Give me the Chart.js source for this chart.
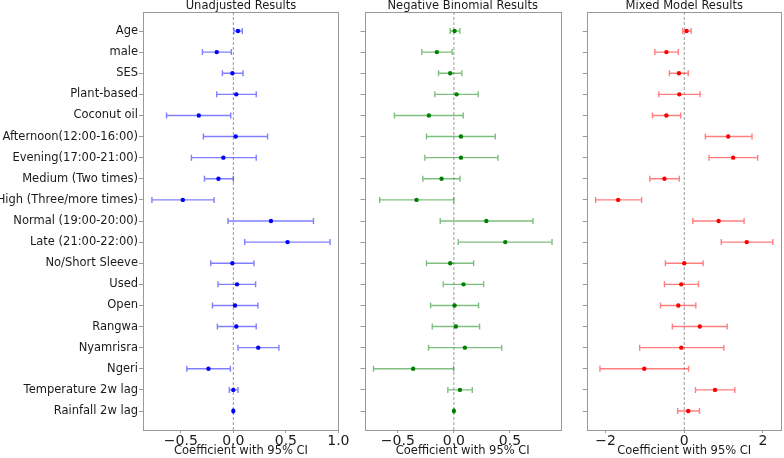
<!DOCTYPE html>
<html><head><meta charset="utf-8">
<script src="https://cdn.jsdelivr.net/npm/chart.js@4.4.0/dist/chart.umd.min.js"></script>
<style>
html,body{margin:0;padding:0;background:#fff;}
#wrap{position:relative;width:784px;height:458px;overflow:hidden;background:#fff;}
canvas{position:absolute;top:0;left:0;}
</style></head><body>
<div id="wrap">
<canvas id="c1" width="784" height="458"></canvas>
<canvas id="c2" width="784" height="458"></canvas>
<canvas id="c3" width="784" height="458"></canvas>
</div>
<script>
const categories = ['Age','male','SES','Plant-based','Coconut oil','Afternoon(12:00-16:00)','Evening(17:00-21:00)','Medium (Two times)','High (Three/more times)','Normal (19:00-20:00)','Late (21:00-22:00)','No/Short Sleeve','Used','Open','Rangwa','Nyamrisra','Ngeri','Temperature 2w lag','Rainfall 2w lag'];

const unadjPoint = [0.044,-0.158,-0.009,0.028,-0.329,0.022,-0.095,-0.142,-0.481,0.358,0.516,-0.009,0.035,0.016,0.028,0.237,-0.237,0.0,0.0];
const unadjLow   = [0.006,-0.294,-0.104,-0.158,-0.636,-0.285,-0.399,-0.275,-0.775,-0.051,0.108,-0.215,-0.146,-0.199,-0.152,0.044,-0.443,-0.038,-0.003];
const unadjHigh  = [0.085,-0.019,0.092,0.218,-0.025,0.326,0.218,0.0,-0.184,0.763,0.921,0.196,0.212,0.234,0.218,0.434,-0.028,0.044,0.003];

const nbPoint = [0.006,-0.152,-0.033,0.024,-0.223,0.063,0.063,-0.110,-0.333,0.289,0.458,-0.033,0.086,0.006,0.018,0.098,-0.363,0.054,0.0];
const nbLow   = [-0.033,-0.286,-0.137,-0.170,-0.530,-0.244,-0.259,-0.277,-0.661,-0.122,0.039,-0.244,-0.095,-0.208,-0.193,-0.226,-0.717,-0.054,-0.003];
const nbHigh  = [0.054,-0.015,0.071,0.217,0.083,0.369,0.393,0.054,0.0,0.705,0.875,0.176,0.265,0.220,0.229,0.426,-0.003,0.164,0.003];

const mmPoint = [0.059,-0.454,-0.134,-0.126,-0.454,1.118,1.244,-0.504,-1.681,0.874,1.588,0.0,-0.076,-0.151,0.395,-0.076,-1.017,0.782,0.101];
const mmLow   = [-0.042,-0.748,-0.378,-0.647,-0.807,0.538,0.630,-0.874,-2.252,0.218,0.941,-0.479,-0.504,-0.605,-0.303,-1.134,-2.143,0.286,-0.168];
const mmHigh  = [0.176,-0.151,0.101,0.403,-0.092,1.723,1.866,-0.126,-1.084,1.521,2.252,0.479,0.361,0.294,1.092,1.008,0.109,1.286,0.387];

const xTicksUnadj = [-0.5, 0, 0.5, 1.0];
const xTicksNB = [-0.5, 0, 0.5];
const xTicksMixed = [-2, 0, 2];

const titles = ['Unadjusted Results','Negative Binomial Results','Mixed Model Results'];
const xAxisTitle = 'Coefficient with 95% CI';

const FONT = "'DejaVu Sans', sans-serif";
const TEXT = '#1a1a1a';
const FRAME = '#9a9a9a';

function forestPlugin(low, high, color, title) {
  return {
    id: 'forest',
    beforeDatasetsDraw(chart) {
      const ctx = chart.ctx, xs = chart.scales.x, ys = chart.scales.y, a = chart.chartArea;
      ctx.save();
      ctx.strokeStyle = FRAME; ctx.lineWidth = 1;
      ctx.strokeRect(Math.round(a.left) + 0.5, Math.round(a.top) + 0.5, Math.round(a.right - a.left) - 1, Math.round(a.bottom - a.top));
      const x0 = xs.getPixelForValue(0);
      ctx.strokeStyle = '#808080'; ctx.lineWidth = 0.8; ctx.setLineDash([3, 2]);
      ctx.beginPath(); ctx.moveTo(x0, a.top); ctx.lineTo(x0, a.bottom); ctx.stroke();
      ctx.setLineDash([]);
      ctx.strokeStyle = color; ctx.lineWidth = 1.4;
      ctx.beginPath();
      for (let i = 0; i < low.length; i++) {
        const y = ys.getPixelForValue(i);
        const x1 = xs.getPixelForValue(low[i]), x2 = xs.getPixelForValue(high[i]);
        ctx.moveTo(x1, y); ctx.lineTo(x2, y);
        ctx.moveTo(x1, y - 3); ctx.lineTo(x1, y + 3);
        ctx.moveTo(x2, y - 3); ctx.lineTo(x2, y + 3);
      }
      ctx.stroke();
      ctx.fillStyle = TEXT; ctx.font = "11.5px " + FONT;
      ctx.textAlign = 'center'; ctx.textBaseline = 'alphabetic';
      ctx.fillText(title, (a.left + a.right) / 2, a.top - 3);
      ctx.restore();
    }
  };
}

function makeChart(id, point, low, high, color, barColor, xmin, xmax, xTicks, fmt, pad, yWidth, showLabels, title) {
  return new Chart(document.getElementById(id), {
    type: 'scatter',
    data: { datasets: [{
      data: point.map((v, i) => ({ x: v, y: i })),
      pointRadius: 2.2, pointHoverRadius: 2.2,
      backgroundColor: color, borderWidth: 0
    }]},
    options: {
      responsive: false, animation: false, devicePixelRatio: 1,
      layout: { padding: { left: pad[0], right: pad[1], top: 12, bottom: 0 } },
      plugins: { legend: { display: false }, tooltip: { enabled: false }, title: { display: false } },
      scales: {
        x: {
          type: 'linear', min: xmin, max: xmax,
          afterBuildTicks: s => { s.ticks = xTicks.map(v => ({ value: v })); },
          afterFit: s => { s.height = 28; s.paddingLeft = 0; s.paddingRight = 0; },
          ticks: { callback: v => fmt(v), font: { family: FONT, size: 14 }, color: TEXT, padding: 0, maxRotation: 0, autoSkip: false },
          grid: { drawOnChartArea: false, drawTicks: true, tickLength: 3, color: FRAME },
          border: { display: false },
          title: { display: true, text: xAxisTitle, font: { family: FONT, size: 11.5 }, color: TEXT, padding: { top: 0, bottom: 0 } }
        },
        y: {
          type: 'linear', reverse: true, min: -0.9, max: 18.9,
          afterBuildTicks: s => { s.ticks = categories.map((_, i) => ({ value: i })); },
          afterFit: s => { s.width = yWidth; s.paddingTop = 0; s.paddingBottom = 0; },
          ticks: { callback: v => showLabels ? categories[v] : '', font: { family: FONT, size: 11.5 }, color: TEXT, padding: 1, autoSkip: false },
          grid: { drawOnChartArea: false, drawTicks: true, tickLength: 4, color: FRAME },
          border: { display: false }
        }
      }
    },
    plugins: [forestPlugin(low, high, barColor, title)]
  });
}

const fmt1 = v => v.toFixed(1).replace('-', '\u2212');
const fmt0 = v => String(v).replace('-', '\u2212');

makeChart('c1', unadjPoint, unadjLow, unadjHigh, '#0000ff', 'rgba(0,0,255,0.5)', -0.86, 1.006, xTicksUnadj, fmt1, [0, 445], 143, true, titles[0]);
makeChart('c2', nbPoint, nbLow, nbHigh, '#008000', 'rgba(0,128,0,0.5)', -0.797, 0.955, xTicksNB, fmt1, [345, 223], 19.5, false, titles[1]);
makeChart('c3', mmPoint, mmLow, mmHigh, '#ff0000', 'rgba(255,0,0,0.5)', -2.48, 2.48, xTicksMixed, fmt0, [565, 1], 21.7, false, titles[2]);
</script>
</body></html>
